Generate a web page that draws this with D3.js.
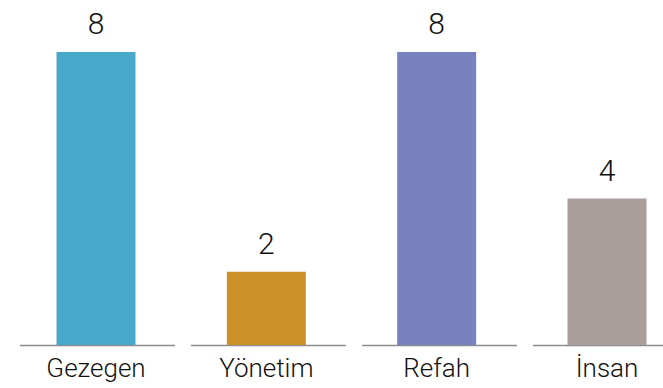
<!DOCTYPE html>
<html>
<head>
<meta charset="utf-8">
<script src="https://cdn.jsdelivr.net/npm/d3@7"></script>
<style>
  body { margin: 0; background: #fff; }
  text { font-family: Roboto, "Liberation Sans", sans-serif; font-weight: 300; fill: #111; }
</style>
</head>
<body>
<div id="chart"></div>
<script>
// data
var categories = ["Gezegen", "Yönetim", "Refah", "İnsan"];
var values = [8, 2, 8, 4];
var colors = ["#48a8c9", "#cc9028", "#7882bf", "#aa9f9a"];

var width = 663, height = 388;
var baseY = 345;

var svg = d3.select("#chart")
  .append("svg")
    .attr("width", width)
    .attr("height", height);

// one baseline segment per category
var xSeg = d3.scaleBand()
  .domain(categories)
  .range([20, 688])
  .paddingInner(0.094)
  .paddingOuter(0);

// bar centres
var x = d3.scalePoint()
  .domain(categories)
  .range([96, 607]);

var barW = 79;

var y = d3.scaleLinear()
  .domain([0, 8])
  .range([baseY, 52]);

svg.selectAll(".seg")
  .data(categories)
  .enter().append("line")
    .attr("class", "seg")
    .attr("x1", function(d) { return xSeg(d); })
    .attr("x2", function(d) { return xSeg(d) + xSeg.bandwidth(); })
    .attr("y1", baseY + 0.5)
    .attr("y2", baseY + 0.5)
    .style("stroke", "#8c8c8c")
    .style("stroke-width", 1.5);

svg.selectAll(".bar")
  .data(categories)
  .enter().append("rect")
    .attr("class", "bar")
    .attr("x", function(d) { return x(d) - barW / 2; })
    .attr("y", function(d, i) { return y(values[i]); })
    .attr("width", barW)
    .attr("height", function(d, i) { return baseY - y(values[i]); })
    .style("fill", function(d, i) { return colors[i]; });

// value labels
svg.selectAll(".val")
  .data(categories)
  .enter().append("text")
    .attr("class", "val")
    .attr("x", function(d) { return x(d); })
    .attr("y", function(d, i) { return y(values[i]) - 18; })
    .style("text-anchor", "middle")
    .style("font-size", "30px")
    .text(function(d, i) { return values[i]; });

// category labels
svg.selectAll(".cat")
  .data(categories)
  .enter().append("text")
    .attr("class", "cat")
    .attr("x", function(d) { return x(d); })
    .attr("y", 377)
    .style("text-anchor", "middle")
    .style("font-size", "26px")
    .text(function(d) { return d; });
</script>
</body>
</html>
